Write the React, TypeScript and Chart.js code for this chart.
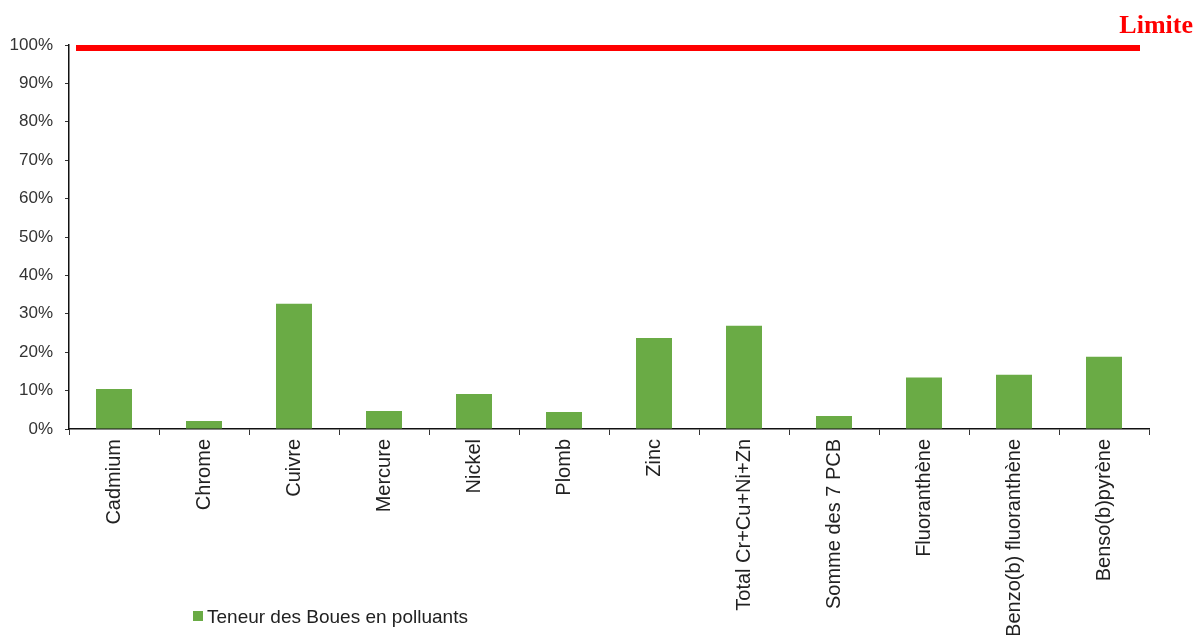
import React, { useEffect, useRef } from "react";
import { Chart, registerables } from "chart.js";

Chart.register(...registerables);

const categories: string[] = [
  "Cadmium",
  "Chrome",
  "Cuivre",
  "Mercure",
  "Nickel",
  "Plomb",
  "Zinc",
  "Total Cr+Cu+Ni+Zn",
  "Somme des 7 PCB",
  "Fluoranthène",
  "Benzo(b) fluoranthène",
  "Benso(b)pyrène",
];

const teneurValues: number[] = [10.4, 2.1, 32.6, 4.7, 9.1, 4.4, 23.7, 26.9, 3.4, 13.4, 14.1, 18.8];

const seriesLabel = "Teneur des Boues en polluants";
const limitValue = 100;
const limitLabel = "Limite";
const yTicks: number[] = [0, 10, 20, 30, 40, 50, 60, 70, 80, 90, 100];

const BAR_COLOR = "#6aab45";
const LABEL_COLOR = "#222222";
const FONT = "'Liberation Sans', Arial, sans-serif";

const limitPlugin = {
  id: "limitLine",
  afterDatasetsDraw(chart: any) {
    const { ctx, chartArea, scales } = chart;
    const y = scales.y.getPixelForValue(limitValue) + 3;
    ctx.save();
    ctx.strokeStyle = "#ff0000";
    ctx.lineWidth = 6;
    ctx.beginPath();
    ctx.moveTo(chartArea.left + 7, y);
    ctx.lineTo(chartArea.right - 9, y);
    ctx.stroke();
    ctx.fillStyle = "#ff0000";
    ctx.font = "bold 26px 'Liberation Serif', 'Times New Roman', serif";
    ctx.textAlign = "right";
    ctx.textBaseline = "alphabetic";
    ctx.fillText(limitLabel, chart.width - 4, y - 15);
    ctx.restore();
  },
};

const legendPlugin = {
  id: "customLegend",
  afterDraw(chart: any) {
    const { ctx, chartArea } = chart;
    const x = chartArea.left + 124;
    const yBase = chart.height - 12;
    ctx.save();
    ctx.fillStyle = BAR_COLOR;
    ctx.fillRect(x, yBase - 12, 10, 10);
    ctx.fillStyle = LABEL_COLOR;
    ctx.font = `19px ${FONT}`;
    ctx.textAlign = "left";
    ctx.textBaseline = "alphabetic";
    ctx.fillText(seriesLabel, x + 14, yBase);
    ctx.restore();
  },
};

export default function App() {
  const canvasRef = useRef<HTMLCanvasElement | null>(null);

  useEffect(() => {
    document.body.style.margin = "0";
    const canvas = canvasRef.current;
    if (!canvas) return;
    const chart = new Chart(canvas, {
      type: "bar",
      data: {
        labels: categories,
        datasets: [
          {
            label: seriesLabel,
            data: teneurValues,
            backgroundColor: BAR_COLOR,
            borderWidth: 0,
            barPercentage: 0.8,
            categoryPercentage: 0.5,
          },
        ],
      },
      options: {
        animation: false,
        responsive: false,
        maintainAspectRatio: false,
        layout: { padding: { top: 45, right: 48, left: 0, bottom: 0 } },
        plugins: {
          legend: { display: false },
          tooltip: { enabled: false },
          title: { display: false },
        },
        scales: {
          x: {
            offset: true,
            grid: {
              display: true,
              offset: true,
              drawOnChartArea: false,
              drawTicks: true,
              tickLength: 6,
              color: "#333333",
            },
            border: { display: true, color: "#111111", width: 1.5 },
            ticks: {
              autoSkip: false,
              minRotation: 90,
              maxRotation: 90,
              padding: 4,
              color: LABEL_COLOR,
              font: { family: FONT, size: 20 },
            },
            afterFit(scale: any) {
              scale.height = 206;
            },
          },
          y: {
            min: 0,
            max: 100,
            afterBuildTicks(scale: any) {
              scale.ticks = yTicks.map((v) => ({ value: v }));
            },
            grid: {
              display: true,
              drawOnChartArea: false,
              drawTicks: true,
              tickLength: 4,
              color: "#333333",
            },
            border: { display: true, color: "#111111", width: 1.5 },
            ticks: {
              padding: 12,
              color: "#333333",
              font: { family: FONT, size: 17 },
              callback: (v: any) => `${v}%`,
            },
            afterFit(scale: any) {
              scale.width = 69;
            },
          },
        },
      },
      plugins: [limitPlugin, legendPlugin],
    });
    return () => chart.destroy();
  }, []);

  return (
    <div style={{ width: 1197, height: 635, background: "#ffffff" }}>
      <canvas ref={canvasRef} width={1197} height={635} style={{ display: "block" }} />
    </div>
  );
}
